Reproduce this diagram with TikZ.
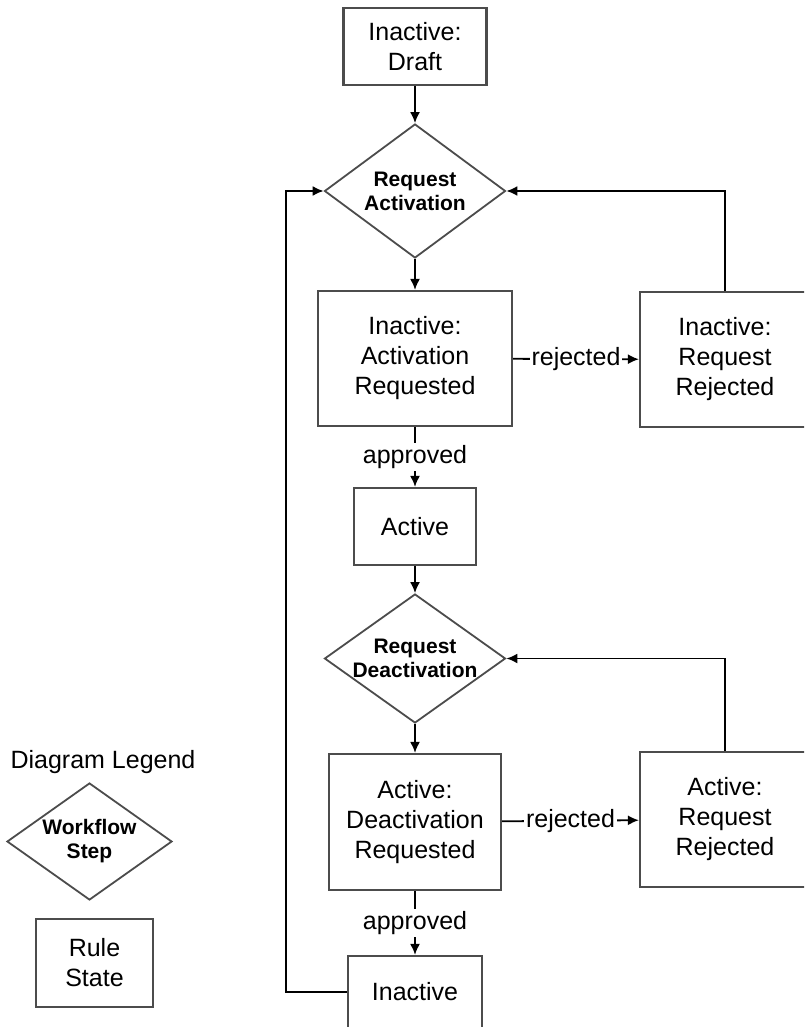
\documentclass[tikz,border=0pt]{standalone}
\usepackage{fontspec}
\setmainfont{Liberation Sans}
\usetikzlibrary{shapes.geometric,arrows.meta}

\begin{document}
\begin{tikzpicture}[x=1pt, y=-1pt, >={Latex[length=11pt,width=10pt]},
    state/.style={draw=black!70, line width=2.2pt, inner sep=0pt, align=center, font=\fontsize{25}{30}\selectfont},
    wfstep/.style={diamond, aspect=1.4, draw=black!70, line width=1.8pt, inner sep=0pt, align=center, font=\fontsize{21}{24}\selectfont\bfseries},
    lbl/.style={fill=white, inner sep=2pt, font=\fontsize{25}{30}\selectfont},
    flow/.style={->, line width=1.8pt}]
    \clip (0,0) rectangle (804,1027);

    % activation part
    \node[state, minimum width=143, minimum height=77] (draft) at (415,46.5) {Inactive:\\Draft};
    \node[wfstep, minimum width=181, minimum height=134] (reqact) at (415,191) {Request\\Activation};
    \node[state, minimum width=194, minimum height=135] (actreq) at (415,358.5) {Inactive:\\Activation\\Requested};
    \node[state, minimum width=170, minimum height=135] (rejact) at (725,359.5) {Inactive:\\Request\\Rejected};
    \node[state, minimum width=122, minimum height=77] (active) at (415,526.5) {Active};

    % deactivation part
    \node[wfstep, minimum width=181, minimum height=129] (reqdeact) at (415,658.5) {Request\\Deactivation};
    \node[state, minimum width=172, minimum height=136] (deactreq) at (415,822) {Active:\\Deactivation\\Requested};
    \node[state, minimum width=170, minimum height=135] (rejdeact) at (725,819.5) {Active:\\Request\\Rejected};
    \node[state, minimum width=134, minimum height=72] (inactive) at (415,992) {Inactive};
    \coordinate (loopleft) at (286,992);

    % legend
    \node[font=\fontsize{25}{30}\selectfont] (legend) at (103,762) {Diagram Legend};
    \node[wfstep, minimum width=165, minimum height=117] (legstep) at (89.5,841.5) {Workflow\\Step};
    \node[state, minimum width=117, minimum height=88] (legstate) at (94.5,963) {Rule\\State};

    \draw[flow] (draft) -- (reqact);
    \draw[flow] (reqact) -- (actreq);
    \draw[flow] (actreq) -- node[lbl]{rejected} (rejact);
    \draw[flow] (actreq) -- node[lbl]{approved} (active);
    \draw[flow] (rejact.north) |- (reqact.east);
    \draw[flow] (active) -- (reqdeact);
    \draw[flow] (reqdeact) -- (deactreq);
    \draw[flow] (deactreq) -- node[lbl]{rejected} (rejdeact);
    \draw[flow] (deactreq) -- node[lbl]{approved} (inactive);
    \draw[flow] (rejdeact.north) |- (reqdeact.east);
    \draw[flow] (inactive.west) -- (loopleft) |- (reqact.west);
\end{tikzpicture}
\end{document}
